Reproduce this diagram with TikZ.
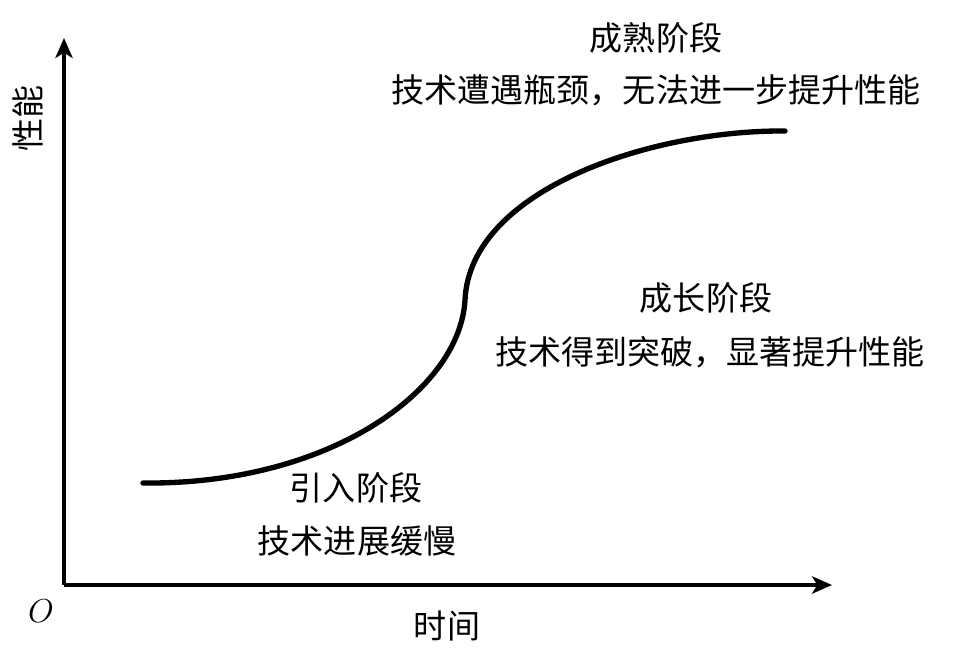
\documentclass[tikz,border=0pt]{standalone}
\usepackage{fontspec}
\newfontfamily\cjk{Noto Sans CJK SC}
\usetikzlibrary{arrows.meta}
\begin{document}
\begin{tikzpicture}[x=0.75pt,y=-0.75pt,
  axis/.style={line width=3.2pt,-{Stealth[length=15pt,width=13pt,inset=4pt]}},
  curveline/.style={line width=4pt,line cap=round},
  label/.style={font=\cjk\fontsize{24.8}{28}\selectfont,inner sep=0pt,align=center}]
\useasboundingbox (0,0) rectangle (957,657);
% axes
\coordinate (origin) at (64,585);
\coordinate (ytip) at (64,38);
\coordinate (xtip) at (832,585);
\draw[axis] (origin) -- (ytip);
\draw[axis] (origin) -- (xtip);
% S-curve
\coordinate (start) at (143,483);
\coordinate (mid) at (465,300);
\coordinate (end) at (785,131);
\draw[curveline] (start) .. controls (330,485) and (460,390) .. (mid)
  .. controls (470,190) and (650,130) .. (end);
% labels
\node[label] (mature) at (656,38) {成熟阶段};
\node[label] (maturetxt) at (656,90) {技术遭遇瓶颈，无法进一步提升性能};
\node[label] (growth) at (706,298) {成长阶段};
\node[label] (growthtxt) at (710,352) {技术得到突破，显著提升性能};
\node[label] (intro) at (356,488) {引入阶段};
\node[label] (introtxt) at (357,541) {技术进展缓慢};
\node[label] (xlabel) at (447,626) {时间};
\node[label,rotate=90] (ylabel) at (28,118) {性能};
\node[inner sep=0pt,font=\fontsize{32}{34}\selectfont] (o) at (41,611) {$O$};
\end{tikzpicture}
\end{document}
